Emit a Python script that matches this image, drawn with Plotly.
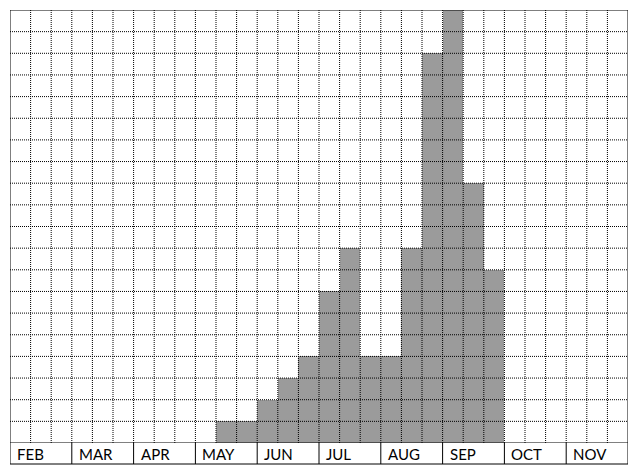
import plotly.graph_objects as go

months = ["FEB", "MAR", "APR", "MAY", "JUN", "JUL", "AUG", "SEP", "OCT", "NOV"]
cols_per_month = 3
# height (in grid rows) of each third-of-a-month column, FEB..NOV
values = [0, 0, 0,   # FEB
          0, 0, 0,   # MAR
          0, 0, 0,   # APR
          0, 1, 1,   # MAY
          2, 3, 4,   # JUN
          7, 9, 4,   # JUL
          4, 9, 18,  # AUG
          20, 12, 8, # SEP
          0, 0, 0,   # OCT
          0, 0, 0]   # NOV
n_rows = 20

n_cols = len(months) * cols_per_month
xs = [i + 0.5 for i in range(n_cols)]

fig = go.Figure()
fig.add_trace(go.Bar(x=xs, y=values, width=1.0,
                     marker=dict(color="#9b9b9b", line=dict(width=0)),
                     hoverinfo="skip"))

shapes = []
dot = dict(color="black", width=1, dash="1px,1px")
solid = dict(color="black", width=1)
band = -21 / 433  # label band depth in paper units

for k in range(1, n_cols):
    shapes.append(dict(type="line", xref="x", yref="y", x0=k, x1=k, y0=0, y1=n_rows,
                       line=dot, layer="above"))
for r in range(1, n_rows):
    shapes.append(dict(type="line", xref="x", yref="y", x0=0, x1=n_cols, y0=r, y1=r,
                       line=dot, layer="above"))
# borders
shapes.append(dict(type="line", xref="x", yref="y", x0=0, x1=n_cols, y0=n_rows, y1=n_rows, line=solid, layer="above"))
shapes.append(dict(type="line", xref="x", yref="y", x0=0, x1=n_cols, y0=0, y1=0, line=solid, layer="above"))
shapes.append(dict(type="line", xref="x", yref="paper", x0=0, x1=n_cols, y0=band, y1=band, line=solid, layer="above"))
shapes.append(dict(type="line", xref="x", yref="paper", x0=0, x1=0, y0=band, y1=1, line=solid, layer="above"))
shapes.append(dict(type="line", xref="x", yref="paper", x0=n_cols, x1=n_cols, y0=band, y1=1, line=solid, layer="above"))
for m in range(1, len(months)):
    xm = m * cols_per_month
    shapes.append(dict(type="line", xref="x", yref="paper", x0=xm, x1=xm, y0=band, y1=0, line=solid, layer="above"))

annotations = []
for m, name in enumerate(months):
    annotations.append(dict(x=m * cols_per_month, y=band / 2, xref="x", yref="paper",
                            text=name, showarrow=False, xanchor="left", yanchor="middle",
                            xshift=5, font=dict(family="Lato", size=15, color="black")))

# page body has an 8px default margin; compensate so the plot area spans 10..628 x 10..443
fig.update_layout(
    width=632, height=468,
    margin=dict(l=2, r=12, t=2, b=33),
    paper_bgcolor="white", plot_bgcolor="white",
    showlegend=False,
    xaxis=dict(range=[0, n_cols], showgrid=False, zeroline=False, showticklabels=False, ticks="", fixedrange=True),
    yaxis=dict(range=[0, n_rows], showgrid=False, zeroline=False, showticklabels=False, ticks="", fixedrange=True),
    shapes=shapes, annotations=annotations, bargap=0,
)
fig.write_html("out.html")
